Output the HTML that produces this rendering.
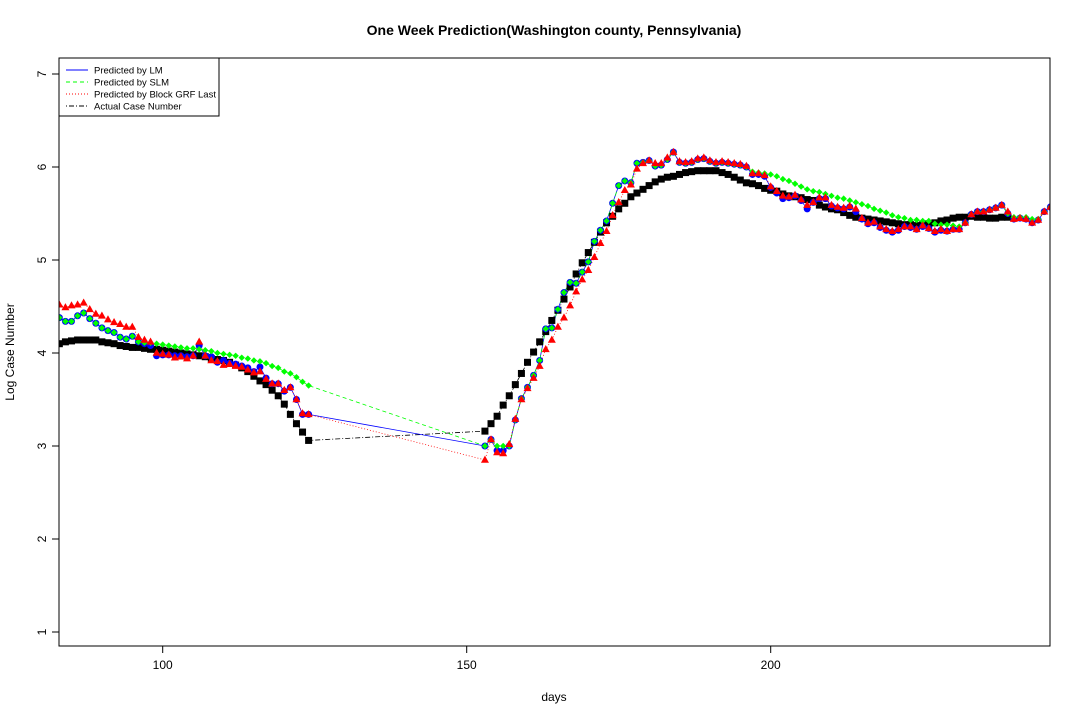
<!DOCTYPE html>
<html><head><meta charset="utf-8"><style>
body{margin:0;background:#fff}
svg text{font-family:"Liberation Sans",sans-serif}
</style></head><body>
<svg id="c" width="1080" height="720" xmlns="http://www.w3.org/2000/svg">
<defs><clipPath id="clip"><rect x="59" y="58" width="991" height="588"/></clipPath></defs>
<text x="554" y="35" text-anchor="middle" font-size="14" font-weight="bold">One Week Prediction(Washington county, Pennsylvania)</text>
<text x="554" y="701" text-anchor="middle" font-size="12">days</text>
<text x="14" y="352" text-anchor="middle" font-size="12" transform="rotate(-90 14 352)">Log Case Number</text>
<g id="axes"></g>
<g id="plot" clip-path="url(#clip)"></g>
<rect x="59" y="58" width="991" height="588" fill="none" stroke="#000" stroke-width="1"/>
<g>
<rect x="59" y="58" width="160" height="58" fill="#fff" stroke="#000" stroke-width="1"/>
<line x1="66" y1="70" x2="88" y2="70" stroke="#00f"/>
<text x="94" y="73.5" font-size="9.5">Predicted by LM</text>
<line x1="66" y1="82" x2="88" y2="82" stroke="#0f0" stroke-dasharray="4,3"/>
<text x="94" y="85.5" font-size="9.5">Predicted by SLM</text>
<line x1="66" y1="94" x2="88" y2="94" stroke="#f00" stroke-dasharray="1,2"/>
<text x="94" y="97.5" font-size="9.5">Predicted by Block GRF Last</text>
<line x1="66" y1="106" x2="88" y2="106" stroke="#000" stroke-dasharray="1,2,5,2"/>
<text x="94" y="109.5" font-size="9.5">Actual Case Number</text>
</g>
</svg>
<script>
const seg1Start = 83, seg1End = 124, seg2Start = 153, predEnd = 246, actualEnd = 239;
const xTicks = [100, 150, 200];
const yTicks = [1, 2, 3, 4, 5, 6, 7];
const actual1 = [4.10,4.12,4.13,4.14,4.14,4.14,4.14,4.12,4.11,4.10,4.08,4.07,4.06,4.06,4.05,4.04,4.04,4.03,4.02,4.01,4.00,3.99,3.98,3.97,3.96,3.94,3.93,3.92,3.90,3.87,3.84,3.80,3.75,3.70,3.66,3.60,3.54,3.45,3.34,3.24,3.15,3.06];
const lm1 = [4.38,4.34,4.34,4.40,4.43,4.37,4.32,4.27,4.24,4.22,4.17,4.15,4.18,4.12,4.10,4.08,3.97,3.98,3.98,3.97,3.97,3.96,3.97,4.08,3.97,3.96,3.90,3.92,3.89,3.88,3.86,3.84,3.80,3.85,3.73,3.67,3.67,3.59,3.63,3.50,3.34,3.34];
const slm1 = [4.38,4.34,4.34,4.40,4.43,4.37,4.32,4.27,4.24,4.22,4.17,4.15,4.18,4.12,4.11,4.11,4.10,4.09,4.08,4.07,4.06,4.05,4.05,4.04,4.03,4.02,4.00,3.99,3.98,3.97,3.95,3.94,3.92,3.91,3.89,3.86,3.84,3.80,3.78,3.74,3.69,3.65];
const grf1 = [4.52,4.49,4.51,4.52,4.54,4.47,4.42,4.40,4.36,4.33,4.31,4.28,4.28,4.17,4.14,4.12,4.00,3.99,3.98,3.95,3.96,3.94,3.97,4.12,3.97,3.92,3.91,3.87,3.88,3.86,3.85,3.82,3.79,3.80,3.72,3.67,3.67,3.60,3.63,3.50,3.35,3.34];
const actual2 = [3.16,3.24,3.32,3.44,3.54,3.66,3.78,3.90,4.01,4.12,4.23,4.35,4.46,4.58,4.71,4.85,4.97,5.08,5.19,5.30,5.40,5.47,5.55,5.61,5.68,5.72,5.76,5.80,5.84,5.87,5.89,5.90,5.92,5.94,5.95,5.96,5.96,5.96,5.96,5.94,5.92,5.89,5.86,5.83,5.82,5.80,5.77,5.75,5.74,5.71,5.69,5.68,5.67,5.65,5.64,5.59,5.57,5.55,5.54,5.51,5.48,5.46,5.45,5.44,5.43,5.42,5.41,5.40,5.39,5.38,5.38,5.37,5.38,5.39,5.40,5.42,5.43,5.45,5.46,5.46,5.47,5.46,5.46,5.45,5.45,5.46,5.46];
const lm2 = [3.00,3.07,2.95,2.95,3.00,3.28,3.51,3.63,3.76,3.92,4.26,4.27,4.47,4.65,4.76,4.75,4.87,4.98,5.20,5.32,5.42,5.61,5.80,5.85,5.83,6.04,6.05,6.07,6.01,6.02,6.08,6.16,6.05,6.04,6.05,6.08,6.09,6.06,6.04,6.05,6.04,6.03,6.02,6.00,5.92,5.92,5.90,5.78,5.72,5.66,5.67,5.69,5.64,5.55,5.62,5.66,5.66,5.58,5.56,5.55,5.57,5.52,5.44,5.39,5.40,5.35,5.32,5.30,5.32,5.36,5.35,5.33,5.36,5.34,5.30,5.32,5.31,5.33,5.33,5.40,5.49,5.52,5.52,5.54,5.56,5.59,5.50,5.44,5.45,5.44,5.40,5.43,5.52,5.57];
const slm2 = [3.00,3.07,3.00,3.00,3.00,3.28,3.51,3.63,3.76,3.92,4.26,4.27,4.47,4.65,4.76,4.75,4.87,4.98,5.20,5.32,5.42,5.61,5.80,5.85,5.83,6.04,6.05,6.07,6.01,6.02,6.08,6.16,6.05,6.04,6.05,6.08,6.09,6.06,6.04,6.05,6.04,6.03,6.02,6.00,5.95,5.94,5.93,5.92,5.90,5.87,5.85,5.82,5.79,5.76,5.74,5.73,5.71,5.69,5.67,5.66,5.64,5.62,5.60,5.58,5.55,5.53,5.51,5.48,5.46,5.45,5.43,5.43,5.42,5.42,5.39,5.38,5.38,5.37,5.36,5.40,5.49,5.52,5.52,5.54,5.56,5.59,5.50,5.46,5.46,5.46,5.44,5.44,5.52,5.57];
const grf2 = [2.85,3.07,2.93,2.92,3.02,3.29,3.50,3.62,3.73,3.86,4.04,4.14,4.28,4.38,4.51,4.66,4.79,4.89,5.03,5.18,5.31,5.48,5.62,5.75,5.81,5.98,6.04,6.07,6.04,6.04,6.10,6.16,6.06,6.05,6.06,6.09,6.10,6.07,6.05,6.06,6.05,6.04,6.03,6.01,5.93,5.93,5.91,5.79,5.74,5.69,5.68,5.70,5.65,5.59,5.62,5.67,5.67,5.59,5.57,5.56,5.58,5.55,5.45,5.40,5.41,5.36,5.33,5.31,5.33,5.36,5.36,5.33,5.37,5.34,5.31,5.33,5.31,5.33,5.33,5.40,5.49,5.52,5.52,5.54,5.56,5.59,5.52,5.44,5.45,5.44,5.40,5.43,5.52,5.57];

const NS = "http://www.w3.org/2000/svg";
function xs(d){ return 162.7 + (d - 100) * 6.08; }
function ys(v){ return 446 - (v - 3) * 93; }
function mk(tag, attrs, parent){ const e = document.createElementNS(NS, tag); for (const k in attrs) e.setAttribute(k, attrs[k]); parent.appendChild(e); return e; }
function pts(vals1, vals2, end2){
  const out = [];
  vals1.forEach((v, i) => out.push([seg1Start + i, v]));
  vals2.forEach((v, i) => { if (seg2Start + i <= end2) out.push([seg2Start + i, v]); });
  return out;
}
const axes = document.getElementById('axes');
const plot = document.getElementById('plot');
mk('line', {x1: xs(xTicks[0]), x2: xs(xTicks[xTicks.length-1]), y1: 646, y2: 646, stroke: '#000'}, axes);
xTicks.forEach(t => {
  const l = mk('line', {x1: xs(t), x2: xs(t), y1: 646, y2: 653, stroke: '#000'}, axes);
  
  
  const tx = mk('text', {x: xs(t), y: 669, 'text-anchor': 'middle', 'font-size': 12}, axes);
  tx.textContent = t;
  
  
});
mk('line', {x1: 59, x2: 59, y1: ys(yTicks[0]), y2: ys(yTicks[yTicks.length-1]), stroke: '#000'}, axes);
yTicks.forEach(t => {
  const l = mk('line', {x1: 52, x2: 59, y1: ys(t), y2: ys(t), stroke: '#000'}, axes);
  
  
  const tx = mk('text', {x: 46, y: ys(t), 'text-anchor': 'middle', 'font-size': 12, transform: `rotate(-90 46 ${ys(t)})`}, axes);
  tx.textContent = t;
  
  
});
const series = [
  {name: 'actual', p: pts(actual1, actual2, actualEnd), color: '#000', dash: '1,2,5,2'},
  {name: 'lm', p: pts(lm1, lm2, predEnd), color: '#00f', dash: ''},
  {name: 'slm', p: pts(slm1, slm2, predEnd), color: '#0f0', dash: '4,3'},
  {name: 'grf', p: pts(grf1, grf2, predEnd), color: '#f00', dash: '1,2'}
];
series.forEach(s => {
  const path = mk('polyline', {points: s.p.map(q => xs(q[0]) + ',' + ys(q[1])).join(' '), fill: 'none', stroke: s.color, 'stroke-width': 0.8, 'stroke-dasharray': s.dash}, plot);
  
  
});
series[0].p.forEach(q => {
  const r = mk('rect', {x: xs(q[0]) - 3.5, y: ys(q[1]) - 3.5, width: 7, height: 7, fill: '#000'}, plot);
  
  
});
series[1].p.forEach(q => {
  const c = mk('circle', {cx: xs(q[0]), cy: ys(q[1]), r: 3.5, fill: '#00f'}, plot);
  
  
});
series[2].p.forEach(q => {
  const x = xs(q[0]), y = ys(q[1]);
  const d = mk('polygon', {points: `${x},${y-3.2} ${x+3.2},${y} ${x},${y+3.2} ${x-3.2},${y}`, fill: '#0f0'}, plot);
  
  
});
series[3].p.forEach(q => {
  const x = xs(q[0]), y = ys(q[1]);
  const t = mk('polygon', {points: `${x},${y-4.3} ${x+4},${y+2.8} ${x-4},${y+2.8}`, fill: '#f00'}, plot);
  
  
});
</script>
</body></html>
